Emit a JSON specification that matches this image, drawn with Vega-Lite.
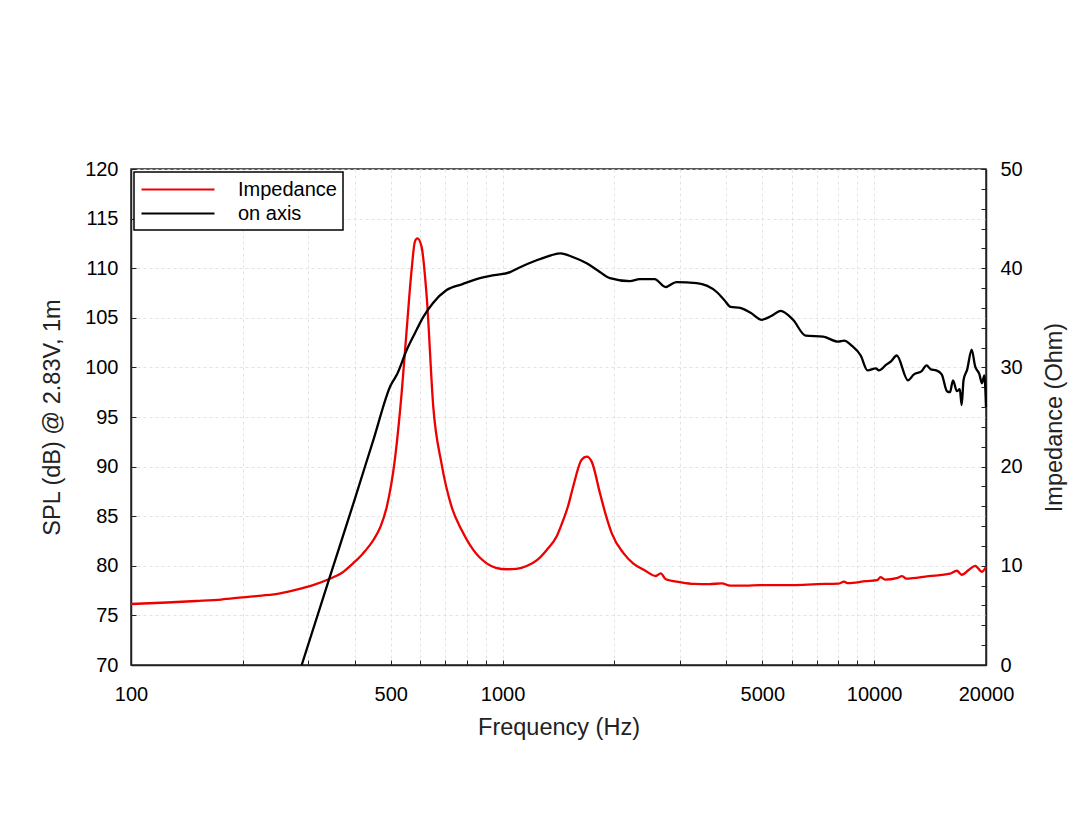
{
  "$schema": "https://vega.github.io/schema/vega-lite/v6.json",
  "width": 855,
  "height": 496,
  "autosize": {"type": "none"},
  "padding": {"left": 131, "top": 169, "right": 99, "bottom": 148},
  "background": "white",
  "config": {
    "font": "Liberation Sans",
    "view": {"stroke": "#222222", "strokeWidth": 1.5},
    "axis": {
      "labelFont": "Liberation Sans",
      "labelFontSize": 20,
      "labelColor": "black",
      "titleFont": "Liberation Sans",
      "titleFontSize": 23.5,
      "titleFontWeight": "normal",
      "titleColor": "#222222",
      "domainColor": "#222222",
      "domainWidth": 1.5,
      "tickColor": "#222222",
      "tickWidth": 1,
      "tickSize": -5,
      "gridColor": "#dcdcdc",
      "gridDash": [3, 3],
      "gridWidth": 0.8
    },
    "legend": {
      "labelFont": "Liberation Sans",
      "labelFontSize": 20,
      "labelColor": "black"
    }
  },
  "datasets": {
    "imp": [
      {"f": 100, "v": 6.15, "s": "Impedance"},
      {"f": 125, "v": 6.3, "s": "Impedance"},
      {"f": 150, "v": 6.45, "s": "Impedance"},
      {"f": 175, "v": 6.6, "s": "Impedance"},
      {"f": 200, "v": 6.82, "s": "Impedance"},
      {"f": 225, "v": 7.0, "s": "Impedance"},
      {"f": 252, "v": 7.23, "s": "Impedance"},
      {"f": 279, "v": 7.6, "s": "Impedance"},
      {"f": 309, "v": 8.06, "s": "Impedance"},
      {"f": 343, "v": 8.7, "s": "Impedance"},
      {"f": 370, "v": 9.3, "s": "Impedance"},
      {"f": 396, "v": 10.25, "s": "Impedance"},
      {"f": 420, "v": 11.2, "s": "Impedance"},
      {"f": 449, "v": 12.6, "s": "Impedance"},
      {"f": 470, "v": 14.0, "s": "Impedance"},
      {"f": 488, "v": 15.96, "s": "Impedance"},
      {"f": 513, "v": 20.7, "s": "Impedance"},
      {"f": 535, "v": 27.4, "s": "Impedance"},
      {"f": 552, "v": 33.8, "s": "Impedance"},
      {"f": 569, "v": 39.8, "s": "Impedance"},
      {"f": 581, "v": 42.7, "s": "Impedance"},
      {"f": 590, "v": 43.0, "s": "Impedance"},
      {"f": 605, "v": 42.2, "s": "Impedance"},
      {"f": 625, "v": 37.1, "s": "Impedance"},
      {"f": 651, "v": 26.0, "s": "Impedance"},
      {"f": 685, "v": 20.3, "s": "Impedance"},
      {"f": 729, "v": 15.96, "s": "Impedance"},
      {"f": 776, "v": 13.6, "s": "Impedance"},
      {"f": 834, "v": 11.6, "s": "Impedance"},
      {"f": 906, "v": 10.25, "s": "Impedance"},
      {"f": 960, "v": 9.8, "s": "Impedance"},
      {"f": 1025, "v": 9.65, "s": "Impedance"},
      {"f": 1090, "v": 9.7, "s": "Impedance"},
      {"f": 1161, "v": 9.98, "s": "Impedance"},
      {"f": 1240, "v": 10.6, "s": "Impedance"},
      {"f": 1315, "v": 11.6, "s": "Impedance"},
      {"f": 1400, "v": 13.0, "s": "Impedance"},
      {"f": 1456, "v": 14.6, "s": "Impedance"},
      {"f": 1500, "v": 16.0, "s": "Impedance"},
      {"f": 1549, "v": 18.0, "s": "Impedance"},
      {"f": 1632, "v": 20.7, "s": "Impedance"},
      {"f": 1684, "v": 21.0, "s": "Impedance"},
      {"f": 1737, "v": 20.5, "s": "Impedance"},
      {"f": 1829, "v": 17.3, "s": "Impedance"},
      {"f": 1900, "v": 15.0, "s": "Impedance"},
      {"f": 1966, "v": 13.3, "s": "Impedance"},
      {"f": 2112, "v": 11.3, "s": "Impedance"},
      {"f": 2245, "v": 10.25, "s": "Impedance"},
      {"f": 2400, "v": 9.6, "s": "Impedance"},
      {"f": 2585, "v": 8.97, "s": "Impedance"},
      {"f": 2665, "v": 9.24, "s": "Impedance"},
      {"f": 2750, "v": 8.64, "s": "Impedance"},
      {"f": 3000, "v": 8.35, "s": "Impedance"},
      {"f": 3280, "v": 8.17, "s": "Impedance"},
      {"f": 3600, "v": 8.15, "s": "Impedance"},
      {"f": 3890, "v": 8.23, "s": "Impedance"},
      {"f": 4100, "v": 8.0, "s": "Impedance"},
      {"f": 4500, "v": 8.0, "s": "Impedance"},
      {"f": 4930, "v": 8.06, "s": "Impedance"},
      {"f": 6050, "v": 8.06, "s": "Impedance"},
      {"f": 7000, "v": 8.15, "s": "Impedance"},
      {"f": 8000, "v": 8.2, "s": "Impedance"},
      {"f": 8300, "v": 8.4, "s": "Impedance"},
      {"f": 8500, "v": 8.25, "s": "Impedance"},
      {"f": 9500, "v": 8.45, "s": "Impedance"},
      {"f": 10200, "v": 8.55, "s": "Impedance"},
      {"f": 10400, "v": 8.85, "s": "Impedance"},
      {"f": 10700, "v": 8.6, "s": "Impedance"},
      {"f": 11500, "v": 8.75, "s": "Impedance"},
      {"f": 11900, "v": 8.95, "s": "Impedance"},
      {"f": 12200, "v": 8.7, "s": "Impedance"},
      {"f": 14000, "v": 8.95, "s": "Impedance"},
      {"f": 16000, "v": 9.2, "s": "Impedance"},
      {"f": 16700, "v": 9.5, "s": "Impedance"},
      {"f": 17200, "v": 9.1, "s": "Impedance"},
      {"f": 18000, "v": 9.6, "s": "Impedance"},
      {"f": 18700, "v": 10.0, "s": "Impedance"},
      {"f": 19500, "v": 9.4, "s": "Impedance"},
      {"f": 20000, "v": 9.9, "s": "Impedance"}
    ],
    "spl": [
      {"f": 288, "v": 70, "s": "on axis"},
      {"f": 343, "v": 78.9, "s": "on axis"},
      {"f": 400, "v": 86.7, "s": "on axis"},
      {"f": 450, "v": 92.8, "s": "on axis"},
      {"f": 500, "v": 98.2, "s": "on axis"},
      {"f": 520, "v": 99.3, "s": "on axis"},
      {"f": 552, "v": 101.75, "s": "on axis"},
      {"f": 580, "v": 103.4, "s": "on axis"},
      {"f": 612, "v": 105.1, "s": "on axis"},
      {"f": 650, "v": 106.5, "s": "on axis"},
      {"f": 707, "v": 107.8, "s": "on axis"},
      {"f": 780, "v": 108.4, "s": "on axis"},
      {"f": 869, "v": 109.0, "s": "on axis"},
      {"f": 950, "v": 109.3, "s": "on axis"},
      {"f": 1047, "v": 109.6, "s": "on axis"},
      {"f": 1100, "v": 110.0, "s": "on axis"},
      {"f": 1235, "v": 110.8, "s": "on axis"},
      {"f": 1350, "v": 111.3, "s": "on axis"},
      {"f": 1433, "v": 111.5, "s": "on axis"},
      {"f": 1550, "v": 111.1, "s": "on axis"},
      {"f": 1684, "v": 110.5, "s": "on axis"},
      {"f": 1800, "v": 109.8, "s": "on axis"},
      {"f": 1945, "v": 109.0, "s": "on axis"},
      {"f": 2200, "v": 108.7, "s": "on axis"},
      {"f": 2340, "v": 108.9, "s": "on axis"},
      {"f": 2566, "v": 108.9, "s": "on axis"},
      {"f": 2745, "v": 108.1, "s": "on axis"},
      {"f": 2935, "v": 108.6, "s": "on axis"},
      {"f": 3330, "v": 108.5, "s": "on axis"},
      {"f": 3770, "v": 107.6, "s": "on axis"},
      {"f": 3950, "v": 106.8, "s": "on axis"},
      {"f": 4110, "v": 106.1, "s": "on axis"},
      {"f": 4360, "v": 106.0, "s": "on axis"},
      {"f": 4650, "v": 105.5, "s": "on axis"},
      {"f": 4985, "v": 104.8, "s": "on axis"},
      {"f": 5300, "v": 105.2, "s": "on axis"},
      {"f": 5600, "v": 105.7, "s": "on axis"},
      {"f": 6050, "v": 104.8, "s": "on axis"},
      {"f": 6540, "v": 103.2, "s": "on axis"},
      {"f": 7290, "v": 103.1, "s": "on axis"},
      {"f": 8000, "v": 102.6, "s": "on axis"},
      {"f": 8300, "v": 102.7, "s": "on axis"},
      {"f": 8700, "v": 102.2, "s": "on axis"},
      {"f": 9200, "v": 101.2, "s": "on axis"},
      {"f": 9600, "v": 99.7, "s": "on axis"},
      {"f": 10100, "v": 99.9, "s": "on axis"},
      {"f": 10300, "v": 99.7, "s": "on axis"},
      {"f": 10800, "v": 100.3, "s": "on axis"},
      {"f": 11100, "v": 100.6, "s": "on axis"},
      {"f": 11500, "v": 101.2, "s": "on axis"},
      {"f": 12330, "v": 98.7, "s": "on axis"},
      {"f": 12800, "v": 99.3, "s": "on axis"},
      {"f": 13400, "v": 99.6, "s": "on axis"},
      {"f": 13840, "v": 100.2, "s": "on axis"},
      {"f": 14200, "v": 99.8, "s": "on axis"},
      {"f": 14700, "v": 99.7, "s": "on axis"},
      {"f": 15200, "v": 99.3, "s": "on axis"},
      {"f": 15700, "v": 97.6, "s": "on axis"},
      {"f": 16000, "v": 97.5, "s": "on axis"},
      {"f": 16300, "v": 98.7, "s": "on axis"},
      {"f": 16700, "v": 97.6, "s": "on axis"},
      {"f": 17000, "v": 97.8, "s": "on axis"},
      {"f": 17200, "v": 96.2, "s": "on axis"},
      {"f": 17400, "v": 98.7, "s": "on axis"},
      {"f": 17800, "v": 99.8, "s": "on axis"},
      {"f": 18300, "v": 101.8, "s": "on axis"},
      {"f": 18700, "v": 100.1, "s": "on axis"},
      {"f": 19200, "v": 99.3, "s": "on axis"},
      {"f": 19500, "v": 98.4, "s": "on axis"},
      {"f": 19800, "v": 99.2, "s": "on axis"},
      {"f": 20000, "v": 96.0, "s": "on axis"}
    ]
  },
  "encoding": {
    "x": {
      "field": "f",
      "type": "quantitative",
      "scale": {"type": "log", "domain": [100, 20000], "nice": false},
      "axis": {
        "title": "Frequency (Hz)",
        "values": [100, 200, 300, 400, 500, 600, 700, 800, 900, 1000, 2000, 3000, 4000, 5000, 6000, 7000, 8000, 9000, 10000, 20000],
        "labelExpr": "indexof([100, 500, 1000, 5000, 10000, 20000], datum.value) >= 0 ? format(datum.value, 'd') : ''",
        "labelOverlap": false,
        "labelFlush": false,
        "labelPadding": 24,
        "titlePadding": 11,
        "grid": true
      }
    },
    "color": {
      "field": "s",
      "type": "nominal",
      "scale": {"domain": ["Impedance", "on axis"], "range": ["#ee0000", "black"]},
      "legend": {
        "title": null,
        "orient": "top-left",
        "offset": 3,
        "padding": 6,
        "rowPadding": 2,
        "symbolType": "M-1,0H6.3",
        "symbolSize": 400,
        "symbolStrokeWidth": 2.2,
        "labelOffset": 75,
        "strokeColor": "black",
        "fillColor": "white",
        "encode": {"legend": {"update": {"strokeWidth": {"value": 1.5}}}}
      }
    }
  },
  "layer": [
    {
      "data": {"name": "imp"},
      "mark": {"type": "line", "strokeWidth": 2.3, "interpolate": "monotone"},
      "encoding": {
        "y": {
          "field": "v",
          "type": "quantitative",
          "scale": {"domain": [0, 50], "nice": false},
          "axis": {
            "orient": "right",
            "title": "Impedance (Ohm)",
            "titleAngle": 270,
            "values": [0, 2, 4, 6, 8, 10, 12, 14, 16, 18, 20, 22, 24, 26, 28, 30, 32, 34, 36, 38, 40, 42, 44, 46, 48, 50],
            "labelExpr": "datum.value % 10 === 0 ? datum.value : ''",
            "labelOverlap": false,
            "labelFlush": false,
            "labelPadding": 19,
            "titlePadding": 44,
            "grid": false
          }
        }
      }
    },
    {
      "data": {"name": "spl"},
      "mark": {"type": "line", "strokeWidth": 2.3, "interpolate": "monotone"},
      "encoding": {
        "y": {
          "field": "v",
          "type": "quantitative",
          "scale": {"domain": [70, 120], "nice": false},
          "axis": {
            "orient": "left",
            "title": "SPL (dB) @ 2.83V, 1m",
            "values": [70, 75, 80, 85, 90, 95, 100, 105, 110, 115, 120],
            "labelOverlap": false,
            "labelFlush": false,
            "labelPadding": 18,
            "titlePadding": 20,
            "grid": true
          }
        }
      }
    }
  ],
  "resolve": {"scale": {"y": "independent"}}
}
